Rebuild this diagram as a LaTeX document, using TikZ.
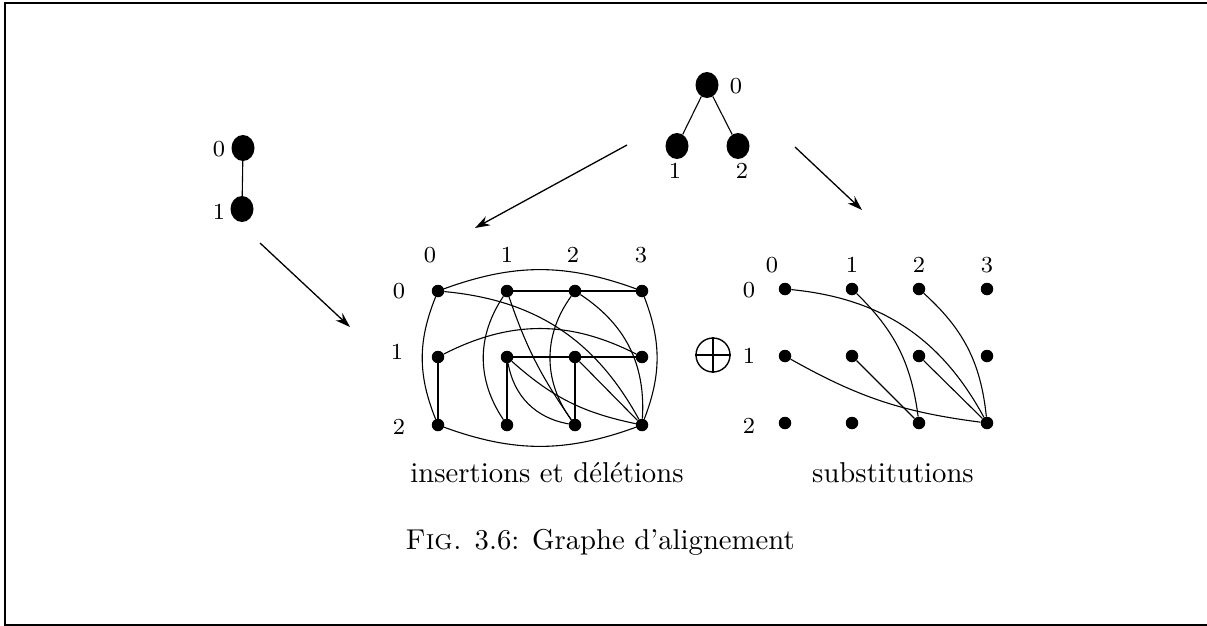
\documentclass[tikz,border=0pt]{standalone}
\usetikzlibrary{arrows.meta,shapes.geometric}
\newcommand{\bigtxt}[1]{\scalebox{2.87}{\normalsize #1}}
\newcommand{\smtxt}[1]{\scalebox{2.87}{\footnotesize #1}}
\begin{document}
\begin{tikzpicture}[x=1pt,y=1pt,
  big/.style={ellipse,fill=black,minimum width=23pt,minimum height=26pt,inner sep=0pt},
  dot/.style={circle,fill=black,minimum size=12.5pt,inner sep=0pt},
  lab/.style={inner sep=0pt},
  txt/.style={inner sep=0pt},
  edge/.style={line width=1.1pt},
  arr/.style={line width=1.3pt,-{Stealth[length=15pt,width=10pt]}}]
\useasboundingbox (0,0) rectangle (1207,-626);
\draw[line width=2pt] (1207,-3) -- (5,-3) -- (5,-624.5) -- (1207,-624.5);

% left graph
\node[big] (p0) at (243,-148) {};
\node[big] (p1) at (242,-209) {};
\draw[edge] (p0) -- (p1);
\node[lab] (lp0) at (219,-149) {\smtxt{0}};
\node[lab] (lp1) at (219,-212) {\smtxt{1}};

% tree
\node[big] (t0) at (707,-85) {};
\node[big] (t1) at (677,-146) {};
\node[big] (t2) at (738,-146) {};
\draw[edge] (t0) -- (t1);
\draw[edge] (t0) -- (t2);
\node[lab] (lt0) at (736,-86) {\smtxt{0}};
\node[lab] (lt1) at (675,-171) {\smtxt{1}};
\node[lab] (lt2) at (742,-171) {\smtxt{2}};

% arrows
\coordinate (a1s) at (260,-243); \coordinate (a1e) at (350,-327);
\coordinate (a2s) at (627,-145); \coordinate (a2e) at (475,-228);
\coordinate (a3s) at (795,-147); \coordinate (a3e) at (862,-210);
\draw[arr] (a1s) -- (a1e);
\draw[arr] (a2s) -- (a2e);
\draw[arr] (a3s) -- (a3e);

% middle grid
\foreach \c/\x in {0/438,1/507,2/575,3/642}{
  \foreach \r/\y in {0/291,1/357,2/425}{
    \node[dot] (m\r\c) at (\x,-\y) {};
  }
}
\node[lab] (mc0) at (430,-255) {\smtxt{0}};
\node[lab] (mc1) at (507,-255) {\smtxt{1}};
\node[lab] (mc2) at (573,-255) {\smtxt{2}};
\node[lab] (mc3) at (641,-255) {\smtxt{3}};
\node[lab] (mr0) at (399,-291) {\smtxt{0}};
\node[lab] (mr1) at (397,-352) {\smtxt{1}};
\node[lab] (mr2) at (399,-427) {\smtxt{2}};

\draw[edge] (m00) to[bend left=20] (m03);
\draw[edge] (m00) to[bend right=22] (m20);
\draw[edge] (m03) to[bend left=21] (m23);
\draw[edge] (m20) to[bend right=20] (m23);
\draw[edge] (m10) to[bend left=27] (m13);
\draw[edge] (m00) to[bend left=28] (m23);
\draw[edge] (m01) to[bend right=34] (m21);
\draw[edge] (m02) to[bend right=36] (m22);
\draw[edge] (m01) to[bend right=8] (m22);
\draw[edge] (m02) to[bend left=30] (m23);
\draw[edge] (m01) -- (m02) -- (m03);
\draw[edge] (m11) -- (m12) -- (m13);
\draw[edge] (m10) -- (m20);
\draw[edge] (m11) -- (m21);
\draw[edge] (m12) -- (m22);
\draw[edge] (m11) to[bend right=35] (m22);
\draw[edge] (m11) to[bend right=15] (m23);
\draw[edge] (m12) -- (m23);

% plus
\node[circle,draw,line width=1.4pt,minimum size=34pt,inner sep=0pt] (op) at (713,-355) {};
\draw[line width=1.4pt] (op.north) -- (op.south);
\draw[line width=1.4pt] (op.west) -- (op.east);

% right grid
\foreach \c/\x in {0/785,1/852,2/919,3/987}{
  \foreach \r/\y in {0/289,1/356,2/423}{
    \node[dot] (r\r\c) at (\x,-\y) {};
  }
}
\node[lab] (rc0) at (772,-265) {\smtxt{0}};
\node[lab] (rc1) at (852,-265) {\smtxt{1}};
\node[lab] (rc2) at (919,-265) {\smtxt{2}};
\node[lab] (rc3) at (987,-265) {\smtxt{3}};
\node[lab] (rr0) at (749,-290) {\smtxt{0}};
\node[lab] (rr1) at (749,-356) {\smtxt{1}};
\node[lab] (rr2) at (749,-426) {\smtxt{2}};

\draw[edge] (r00) to[bend left=28] (r23);
\draw[edge] (r01) to[bend left=19] (r22);
\draw[edge] (r02) to[bend left=21] (r23);
\draw[edge] (r10) to[bend right=11] (r23);
\draw[edge] (r11) -- (r22);
\draw[edge] (r12) -- (r23);

% texts
\node[txt] (tins) at (547,-473) {\bigtxt{insertions et délétions}};
\node[txt] (tsub) at (893,-473) {\bigtxt{substitutions}};
\node[txt] (cap) at (600,-542) {\bigtxt{\textsc{Fig.} 3.6: Graphe d'alignement}};
\end{tikzpicture}
\end{document}
